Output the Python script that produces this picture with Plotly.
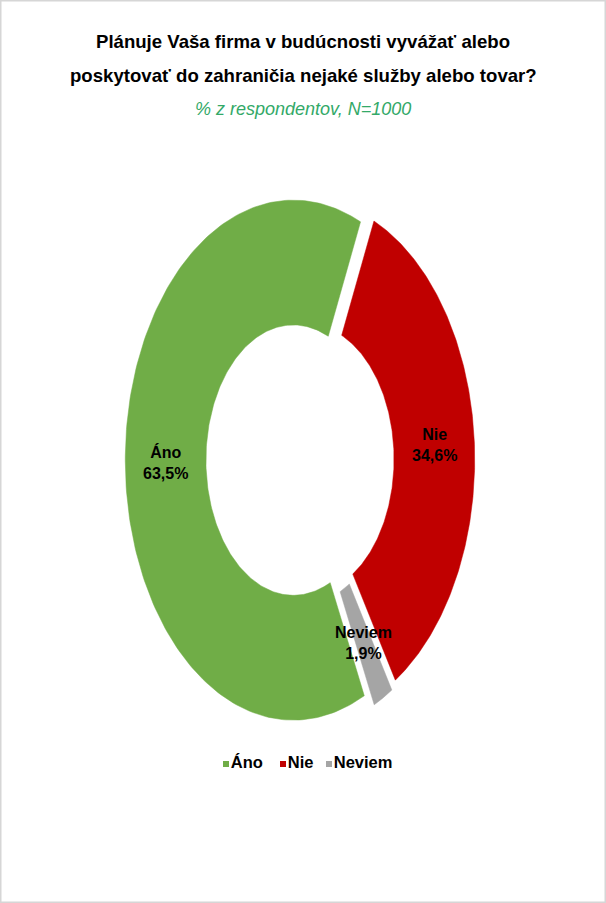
import numpy as np
import plotly.graph_objects as go

# ---- data ----
categories = ["Áno", "Nie", "Neviem"]
values = [63.5, 34.6, 1.9]
value_labels = ["63,5%", "34,6%", "1,9%"]
colors = ["#70AD47", "#C00000", "#A5A5A5"]

title_lines = ["Plánuje Vaša firma v budúcnosti vyvážať alebo",
               "poskytovať do zahraničia nejaké služby alebo tovar?"]
subtitle = "% z respondentov, N=1000"

# ---- style / layout constants ----
W, H = 606, 903
CX, CY = 300, 460          # ellipse centre in pixels
RX, RY = 168, 260          # outer semi-axes in pixels
ROTATION = 155             # degrees clockwise from 12 o'clock where first slice starts
HOLE = 0.52
PULL = 0.04
LABEL_R = (1 + HOLE) / 2
FONT = "Liberation Sans, Arial, sans-serif"
LEGEND_PX = [226, 283, 329]   # pixel x of legend squares
LEGEND_PY = 764

fig = go.Figure()

total = float(sum(values))
cum = 0.0
label_ann = []
for cat, v, lab, col in zip(categories, values, value_labels, colors):
    a0 = np.radians(ROTATION + cum / total * 360.0)
    a1 = np.radians(ROTATION + (cum + v) / total * 360.0)
    cum += v
    am = (a0 + a1) / 2
    ox, oy = PULL * np.sin(am), PULL * np.cos(am)
    t = np.linspace(a0, a1, 200)
    xs = np.concatenate([np.sin(t), HOLE * np.sin(t[::-1])]) + ox
    ys = np.concatenate([np.cos(t), HOLE * np.cos(t[::-1])]) + oy
    xs = np.append(xs, xs[0])
    ys = np.append(ys, ys[0])
    fig.add_trace(go.Scatter(
        x=xs, y=ys, mode="lines", fill="toself", fillcolor=col,
        line=dict(color=col, width=0.5), name=cat, showlegend=False,
        hoverinfo="text", text=f"{cat}: {lab}"))
    label_ann.append(dict(
        x=LABEL_R * np.sin(am) + ox, y=LABEL_R * np.cos(am) + oy,
        xref="x", yref="y", text=f"{cat}<br>{lab}", showarrow=False,
        font=dict(family=FONT, size=16, color="#000000", weight="bold"),
        xanchor="center", yanchor="middle"))

# legend: small squares with category names
fig.add_trace(go.Scatter(
    x=[(px - CX) / RX for px in LEGEND_PX],
    y=[(CY - LEGEND_PY) / RY] * len(categories),
    mode="markers+text", text=categories, textposition="middle right",
    marker=dict(symbol="square", size=6, color=colors),
    textfont=dict(family=FONT, size=16.5, color="#000000", weight="bold"),
    showlegend=False, hoverinfo="skip", cliponaxis=False))

title_ann = [
    dict(x=0.5, y=1 - 41 / H, text=title_lines[0],
         font=dict(family=FONT, size=18.6, color="#000000", weight="bold")),
    dict(x=0.5, y=1 - 76 / H, text=title_lines[1],
         font=dict(family=FONT, size=18.6, color="#000000", weight="bold")),
    dict(x=0.5, y=1 - 109 / H, text=subtitle,
         font=dict(family=FONT, size=18, color="#33A968", style="italic")),
]
for a in title_ann:
    a.update(xref="paper", yref="paper", showarrow=False,
             xanchor="center", yanchor="middle")

fig.update_layout(
    width=W, height=H,
    margin=dict(l=0, r=0, t=0, b=0),
    paper_bgcolor="white", plot_bgcolor="white",
    xaxis=dict(range=[(0 - CX) / RX, (W - CX) / RX], visible=False, fixedrange=True),
    yaxis=dict(range=[(CY - H) / RY, CY / RY], visible=False, fixedrange=True),
    annotations=label_ann + title_ann,
    shapes=[dict(type="rect", xref="paper", yref="paper", x0=0, y0=0, x1=1, y1=1,
                 line=dict(color="#D6D6D6", width=3))],
    showlegend=False,
)

fig.write_html("out.html", config={"displayModeBar": False},
               post_script="document.body.style.margin='0';document.body.style.overflow='hidden';")
